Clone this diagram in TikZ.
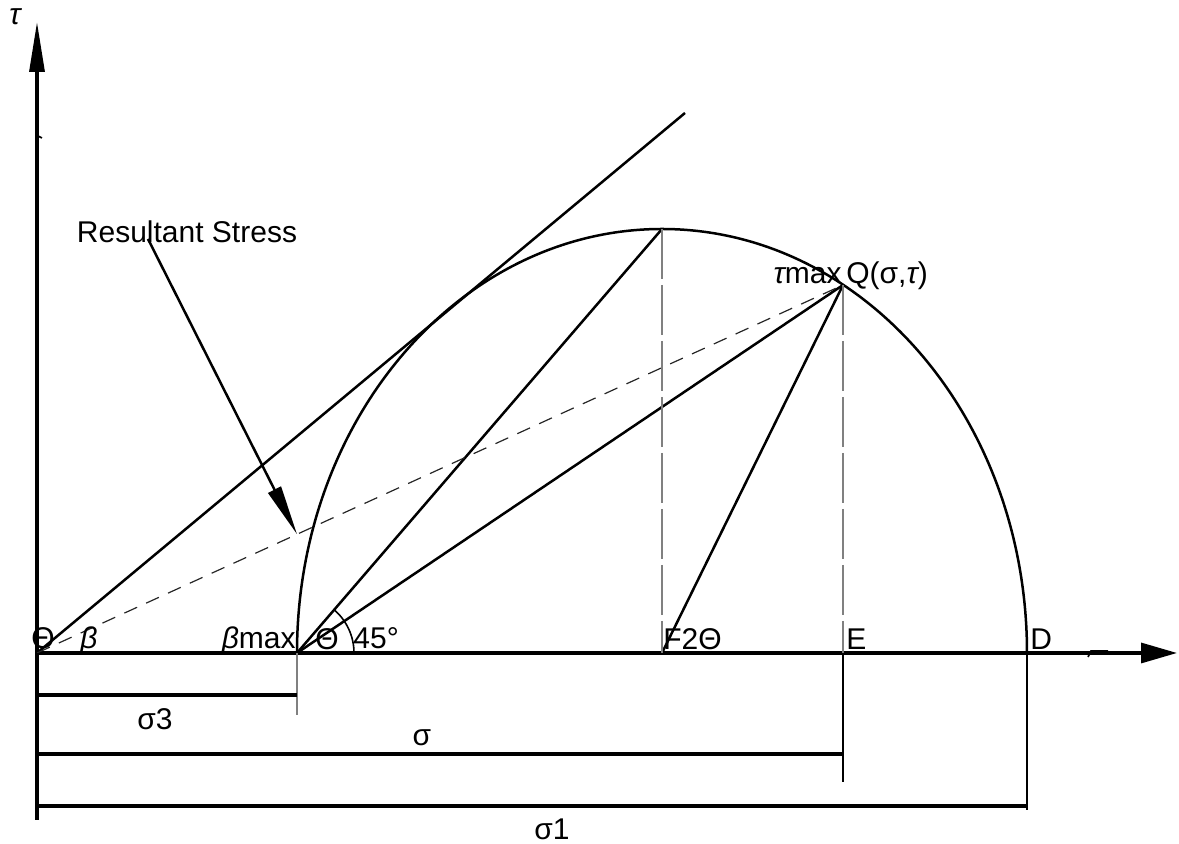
\documentclass[tikz,border=0pt]{standalone}
\usepackage{fontspec}
\setmainfont{Liberation Sans}
\usetikzlibrary{arrows.meta,positioning}
\usetikzlibrary{calc}

\begin{document}
\begin{tikzpicture}[
    x=0.5pt, y=0.5pt,
    font=\fontsize{15}{18}\selectfont,
    heavy/.style={line width=1.6pt},
    solid line/.style={line width=1.25pt},
    fine/.style={line width=0.8pt},
    dash line/.style={line width=0.6pt, black!85, dash pattern=on 7pt off 5pt},
    drop line/.style={line width=0.6pt, black!50, dash pattern=on 25pt off 3pt},
    tag/.style={inner sep=0pt},
]
\useasboundingbox (-37,-191) rectangle (1142,653);

% points on the sigma axis
\coordinate (O) at (0,0);
\coordinate (A) at (260,0);
\coordinate (F) at (625,0);
\coordinate (E) at (806,0);
\coordinate (D) at (990,0);
\coordinate (T) at (625,424);
\coordinate (Q) at (806,368);
\coordinate (tanEnd) at (648,540);
\coordinate (tauEnd) at (0,631);
\coordinate (sigEnd) at (1140,0);

% axes
\draw[heavy, -{Triangle[length=25pt,width=7.5pt]}] (O) -- (tauEnd);
\draw[heavy, -{Triangle[length=18pt,width=10pt]}] (O) -- (sigEnd);
\coordinate (tkA) at (-1,526);
\coordinate (tkB) at (1,517);
\coordinate (tkC) at (5,515);
\draw[fine] (tkA) -- (tkB) -- (tkC);
\coordinate (tkD) at (1051,-4);
\coordinate (tkE) at (1054,2);
\coordinate (tkF) at (1071,2);
\draw[fine] (tkD) -- (tkE) -- (tkF);

% Mohr circle
\draw[solid line] (A) arc[start angle=180, end angle=0, x radius=365, y radius=424];
\draw[solid line] (O) -- (tanEnd);
\draw[solid line] (A) -- (T);
\draw[solid line] (A) -- (Q);
\draw[solid line] (F) -- (Q);
\draw[dash line] (O) -- (Q);
\draw[drop line] (T) -- (F);
\draw[drop line] (Q) -- (E);
\coordinate (arcStart) at (317,0);
\draw[fine] (arcStart) arc[start angle=0, end angle=49.3, radius=57];

% resultant stress pointer
\node (lblRes) at (150,421) {Resultant Stress};
\coordinate (resStart) at (111,414);
\coordinate (resTip) at ($(O)!0.3226!(Q)$);
\draw[solid line, -{Triangle[length=25pt,width=7pt]}] (resStart) -- (resTip);

% dimensions
\coordinate (s3L) at (0,-42);
\coordinate (s3R) at (260,-42);
\coordinate (sL) at (0,-101);
\coordinate (sR) at (806,-101);
\coordinate (s1L) at (0,-153);
\coordinate (s1R) at (990,-153);
\coordinate (extO) at (0,-167);
\coordinate (extA) at (260,-62);
\coordinate (extE) at (806,-129);
\coordinate (extD) at (990,-157);
\draw[heavy] (O) -- (extO);
\draw[line width=0.6pt, black!50] (A) -- (extA);
\draw[solid line] (E) -- (extE);
\draw[solid line] (D) -- (extD);
\draw[heavy] (s3L) -- (s3R);
\draw[heavy] (sL) -- (sR);
\draw[heavy] (s1L) -- (s1R);

% labels
\node[tag] (lblTau) at (-22,636) {\itshape τ};
\node[tag, anchor=base] (lblO) at (6,4) {Θ};
\node[tag, anchor=base] (lblBeta) at (52,4) {\itshape β};
\node[tag, anchor=base east] (lblBmax) at (259,4) {\itshape β\upshape max};
\node[tag, anchor=base] (lblTheta) at (290,3) {Θ};
\node[tag, anchor=base west] (lblDeg) at (316,4) {45°};
\node[tag, anchor=base west] (lblF) at (626,3) {F2Θ};
\node[tag, anchor=base west] (lblE) at (809,3) {E};
\node[tag, anchor=base west] (lblD) at (993,3) {D};
\node[tag, anchor=east] (lblTmax) at (805,377) {\itshape τ\upshape max};
\node[tag, anchor=west] (lblQ) at (809,377) {Q(σ,\itshape τ\upshape)};
\node[tag] (lblS3) at (118,-66) {σ3};
\node[tag] (lblSig) at (385,-85) {σ};
\node[tag] (lblS1) at (515,-176) {σ1};
\end{tikzpicture}
\end{document}
